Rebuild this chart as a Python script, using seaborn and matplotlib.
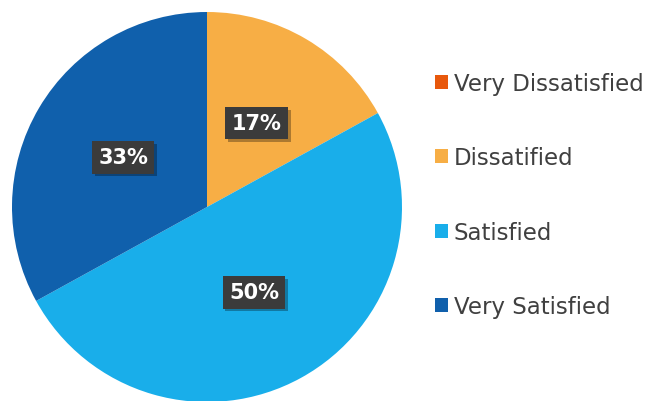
import matplotlib
matplotlib.use("Agg")
import matplotlib.pyplot as plt
import matplotlib.patches as mpatches
import matplotlib.patheffects as pe
import seaborn as sns

categories = ["Very Dissatisfied", "Dissatified", "Satisfied", "Very Satisfied"]
shares = [0, 17, 50, 33]
colors = ["#E8580C", "#F7AE45", "#19AEEA", "#1060AC"]

sns.set_theme(style="white")
plt.rcParams["font.family"] = ["DejaVu Sans"]

W, H = 648, 402
fig = plt.figure(figsize=(W / 100, H / 100), dpi=100)
fig.patch.set_facecolor("white")

cx, cy, r = 207, 208, 195
ax = fig.add_axes([(cx - r) / W, (H - cy - r) / H, 2 * r / W, 2 * r / H])

wedges, _, autotexts = ax.pie(
    shares,
    colors=colors,
    startangle=90,
    counterclock=False,
    radius=1,
    autopct=lambda p: f"{p:.0f}%" if p > 0 else "",
    pctdistance=0.5,
    wedgeprops=dict(linewidth=0),
    textprops=dict(color="white", fontsize=15, fontweight="bold"),
)
ax.set_xlim(-1, 1)
ax.set_ylim(-1, 1)
ax.set_aspect("equal")
ax.axis("off")

for t in autotexts:
    if not t.get_text():
        continue
    t.set_bbox(dict(boxstyle="square,pad=0.3", facecolor="#3B3B3B", edgecolor="none"))
    t.get_bbox_patch().set_path_effects(
        [pe.SimplePatchShadow(offset=(2, -2), shadow_rgbFace="#000000", alpha=0.3), pe.Normal()]
    )

handles = [mpatches.Patch(facecolor=c, edgecolor="none") for c in colors]
fig.legend(
    handles,
    categories,
    loc="upper left",
    bbox_to_anchor=(435 / W, 1 - 73 / H),
    frameon=False,
    fontsize=16.5,
    labelcolor="#404040",
    handlelength=0.57,
    handleheight=0.57,
    handletextpad=0.25,
    labelspacing=2.24,
    borderpad=0,
    borderaxespad=0,
)

fig.savefig("out.png", dpi=100)
